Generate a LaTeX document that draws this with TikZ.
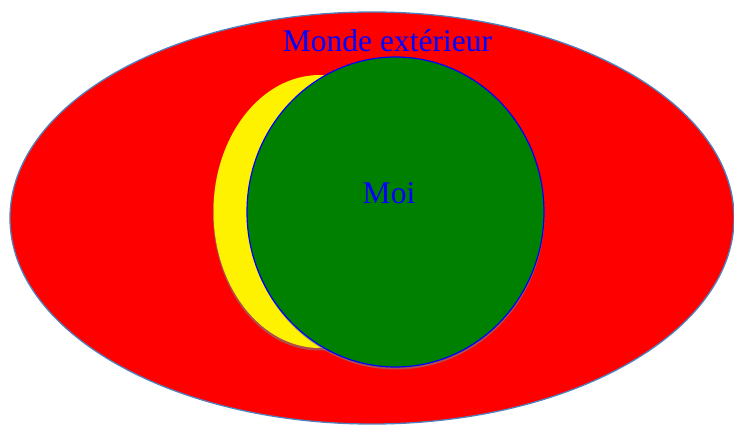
\documentclass[tikz,border=0pt]{standalone}
\usepackage{fontspec}
\setmainfont{Liberation Serif}
\definecolor{outerline}{HTML}{4F81BD}
\definecolor{pgreen}{HTML}{008000}
\tikzset{
  lbl/.style={text=blue, font=\fontsize{31.5}{36}\selectfont, inner sep=0pt, anchor=base},
  shadowfill/.style={fill=gray, opacity=0.6}
}
\begin{document}
\begin{tikzpicture}[x=1pt,y=-1pt]
\useasboundingbox (0,0) rectangle (734,425);
% outer world
\filldraw[fill=red, draw=outerline, line width=1.3pt] (372,218) ellipse [x radius=362, y radius=206];
% yellow crescent (ellipse behind)
\fill[shadowfill] (319,213.5) ellipse [x radius=106, y radius=137];
\fill[yellow] (320,211.5) ellipse [x radius=106.5, y radius=136.5];
% green self
\fill[shadowfill] (396,214.5) ellipse [x radius=148.5, y radius=155];
\filldraw[fill=pgreen, draw=blue, line width=1.2pt] (395.5,212) ellipse [x radius=148.5, y radius=155];
% labels
\node[lbl] (monde) at (387.5,51.7) {Monde extérieur};
\node[lbl] (moi) at (389,204) {Moi};
\end{tikzpicture}
\end{document}
